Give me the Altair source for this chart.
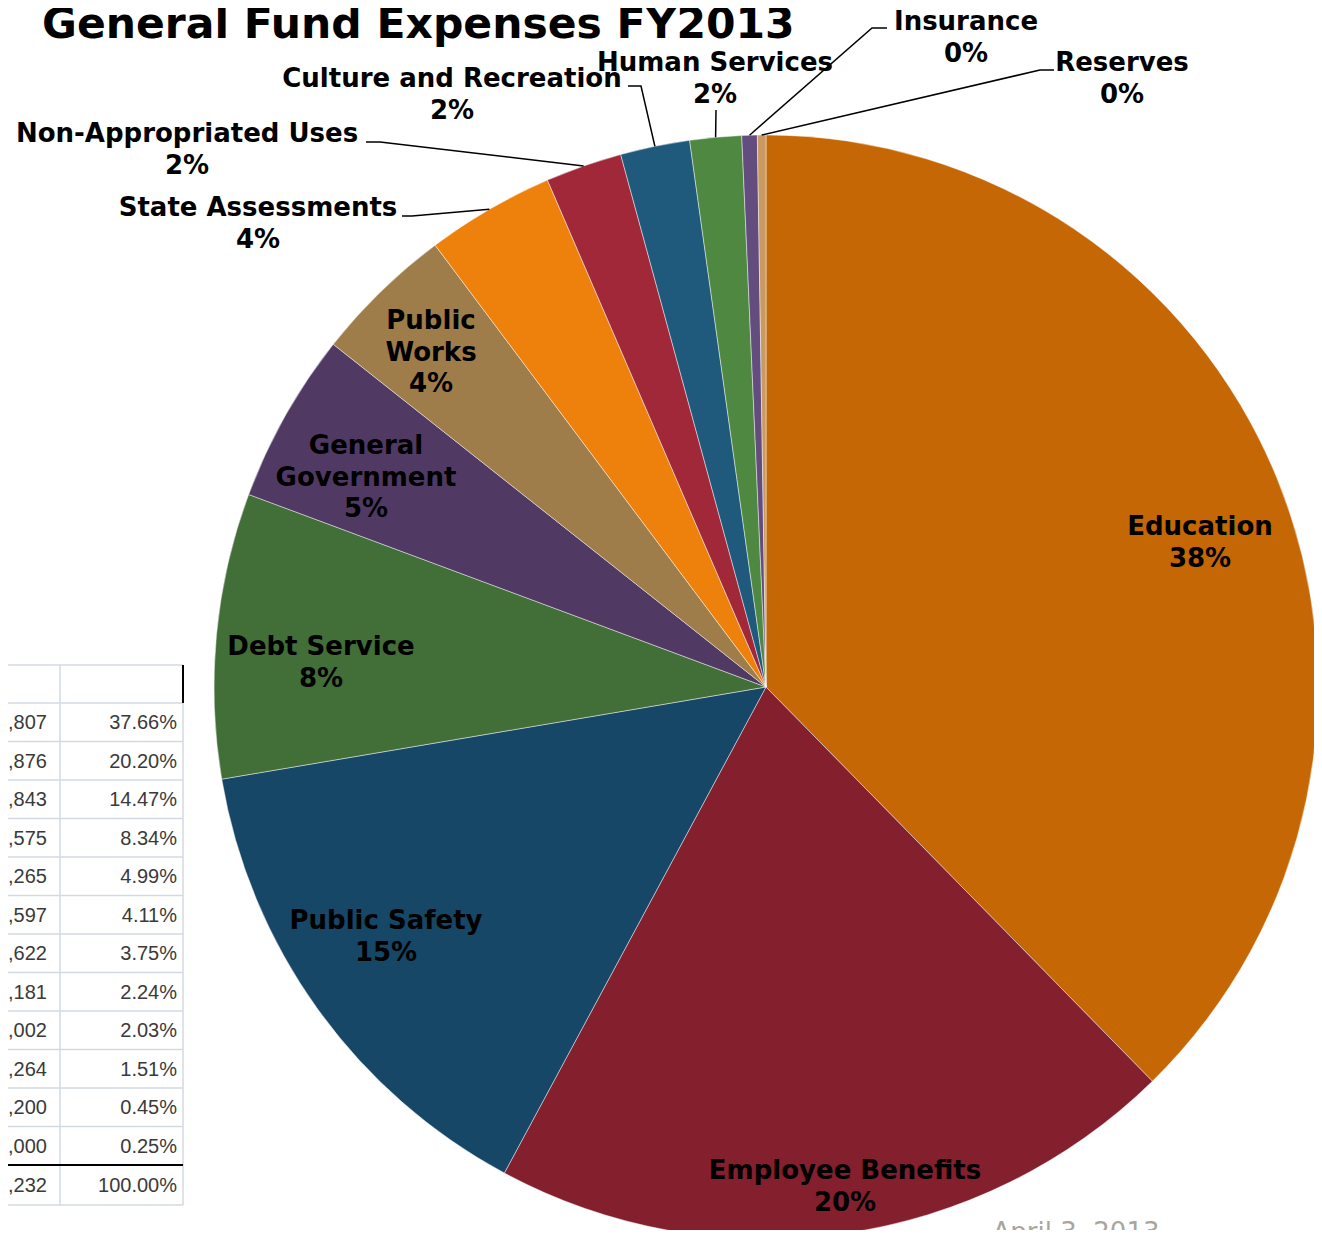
import math
import altair as alt
import pandas as pd

# ---------------- data ----------------
title_text = "General Fund Expenses FY2013"
date_text = "April 3, 2013"
categories = ["Education", "Employee Benefits", "Public Safety", "Debt Service",
              "General Government", "Public Works", "State Assessments",
              "Non-Appropriated Uses", "Culture and Recreation", "Human Services",
              "Insurance", "Reserves"]
shares = [37.66, 20.20, 14.47, 8.34, 4.99, 4.11, 3.75, 2.24, 2.03, 1.51, 0.45, 0.25]
colors = ["#C56705", "#841F2E", "#164766", "#426E38", "#503A63", "#9E7D4A",
          "#EE800C", "#A12838", "#1F5A7C", "#4F8840", "#634C7E", "#C99A62"]
amount_tails = ["3,807", "6,876", "3,843", "6,575", "0,265", "6,597",
                "6,622", "3,181", "7,002", "6,264", "3,200", "0,000"]
total_tail = "2,232"
total_pct = "100.00%"

# ---------------- layout (page pixel coordinates) ----------------
CX, CY, R = 766, 687, 552
label_lines = {"General Government": ["General", "Government"],
               "Public Works": ["Public", "Works"]}
label_pos = {  # centre x, cap-centre y of first line
    "Education": (1200, 526),
    "Employee Benefits": (845, 1170),
    "Public Safety": (386, 920),
    "Debt Service": (321, 646),
    "General Government": (366, 445),
    "Public Works": (431, 320),
    "State Assessments": (258, 207),
    "Non-Appropriated Uses": (187, 133),
    "Culture and Recreation": (452, 78),
    "Human Services": (715, 62),
    "Insurance": (966, 21),
    "Reserves": (1122, 62),
}
leader_start = {
    "State Assessments": [(402, 216), (412, 216)],
    "Non-Appropriated Uses": [(366, 142), (380, 142)],
    "Culture and Recreation": [(628, 86), (641, 86)],
    "Human Services": [(716, 110)],
    "Insurance": [(887, 28), (872, 28)],
    "Reserves": [(1054, 70), (1040, 70)],
}
LINE_GAP = 31.5
LABEL_SIZE = 26


def excel_percent(vals):
    floors = [math.floor(v) for v in vals]
    rem = 100 - sum(floors)
    order = sorted(range(len(vals)), key=lambda i: vals[i] - floors[i], reverse=True)
    for i in order[:rem]:
        floors[i] += 1
    return floors


pcts = excel_percent(shares)
total = sum(shares)

pie_df = pd.DataFrame({"category": categories, "share": shares,
                       "idx": list(range(len(categories)))})

# labels
lab_rows = []
for cat, p in zip(categories, pcts):
    x0, y0 = label_pos[cat]
    lines = label_lines.get(cat, [cat]) + [f"{p}%"]
    for k, t in enumerate(lines):
        lab_rows.append({"x": x0, "y": y0 + LINE_GAP * k + 9, "text": t})
lab_df = pd.DataFrame(lab_rows)

# leader lines: label-side points + edge point at slice mid-angle
lead_rows = []
cum = 0.0
for cat, s in zip(categories, shares):
    mid = (cum + s / 2) / total * 2 * math.pi
    cum += s
    if cat in leader_start:
        pts = leader_start[cat] + [(CX + R * math.sin(mid), CY - R * math.cos(mid))]
        for j, (px, py) in enumerate(pts):
            lead_rows.append({"id": cat, "seq": j, "x": px, "y": py})
lead_df = pd.DataFrame(lead_rows)

# table (cut-off at left edge, as in the source slide)
ROW0, ROWH, HDR_TOP = 703, 38.5, 665
COL1, COL2 = 60, 183
tab_rows = []
for i, (a, s) in enumerate(zip(amount_tails, shares)):
    yb = ROW0 + ROWH * i + ROWH / 2 + 7
    tab_rows.append({"x": 47, "y": yb, "text": a})
    tab_rows.append({"x": 177, "y": yb, "text": f"{s:.2f}%"})
total_y = ROW0 + ROWH * len(shares)
tab_rows.append({"x": 47, "y": total_y + 20 + 7, "text": total_tail})
tab_rows.append({"x": 177, "y": total_y + 20 + 7, "text": total_pct})
tab_df = pd.DataFrame(tab_rows)

grid_rows = [{"x": 0, "x2": COL2, "y": HDR_TOP, "y2": HDR_TOP}]
for i in range(len(shares)):
    yy = ROW0 + ROWH * i
    grid_rows.append({"x": 0, "x2": COL2, "y": yy, "y2": yy})
grid_rows.append({"x": 0, "x2": COL2, "y": total_y + 40, "y2": total_y + 40})
grid_rows.append({"x": COL1, "x2": COL1, "y": HDR_TOP, "y2": total_y + 40})
grid_rows.append({"x": COL2, "x2": COL2, "y": ROW0, "y2": total_y + 40})
grid_df = pd.DataFrame(grid_rows)
heavy_df = pd.DataFrame([
    {"x": 0, "x2": COL2, "y": total_y, "y2": total_y},
    {"x": COL2, "x2": COL2, "y": HDR_TOP, "y2": ROW0},
])

title_df = pd.DataFrame([{"x": 42, "y": 38, "text": title_text}])
date_df = pd.DataFrame([{"x": 1076, "y": 1241, "text": date_text}])

# ---------------- chart ----------------
W, H = 1306, 1222
xs = alt.Scale(domain=[8, 8 + W], range=[0, W], zero=False, nice=False)
ys = alt.Scale(domain=[8, 8 + H], range=[0, H], zero=False, nice=False)


def X(f="x"):
    return alt.X(f"{f}:Q", scale=xs, axis=None)


def Y(f="y"):
    return alt.Y(f"{f}:Q", scale=ys, axis=None)


pie = alt.Chart(pie_df).mark_arc(radius=R, stroke="#ffffff", strokeWidth=1,
                                 strokeOpacity=0.45).encode(
    theta=alt.Theta("share:Q", stack=True),
    color=alt.Color("category:N", scale=alt.Scale(domain=categories, range=colors),
                    legend=None),
    order=alt.Order("idx:Q"),
    x=alt.value(CX - 8),
    y=alt.value(CY - 8),
)

leaders = alt.Chart(lead_df).mark_line(color="#000000", strokeWidth=1.5).encode(
    x=X(), y=Y(), detail="id:N", order="seq:Q")

labels = alt.Chart(lab_df).mark_text(
    font="DejaVu Sans", fontWeight="bold", fontSize=LABEL_SIZE, color="#000000",
    align="center", baseline="alphabetic").encode(x=X(), y=Y(), text="text:N")

title = alt.Chart(title_df).mark_text(
    font="DejaVu Sans", fontWeight="bold", fontSize=42.5, color="#000000",
    align="left", baseline="alphabetic").encode(x=X(), y=Y(), text="text:N")

date = alt.Chart(date_df).mark_text(
    font="DejaVu Sans", fontSize=26, color="#A8A69C",
    align="center", baseline="alphabetic").encode(x=X(), y=Y(), text="text:N")

grid = alt.Chart(grid_df).mark_rule(color="#D3D9E4", strokeWidth=1.5).encode(
    x=X(), x2="x2:Q", y=Y(), y2="y2:Q")
heavy = alt.Chart(heavy_df).mark_rule(color="#000000", strokeWidth=2).encode(
    x=X(), x2="x2:Q", y=Y(), y2="y2:Q")

table_text = alt.Chart(tab_df).mark_text(
    font="Liberation Sans", fontSize=20, color="#3A3A3A",
    align="right", baseline="alphabetic").encode(x=X(), y=Y(), text="text:N")

chart = alt.layer(grid, heavy, table_text, pie, leaders, labels, title, date).properties(
    width=W, height=H, autosize=alt.AutoSizeParams(type="none"), padding=0
).configure_view(stroke=None)

chart.save("out.html", embed_options={"renderer": "svg", "actions": False})
